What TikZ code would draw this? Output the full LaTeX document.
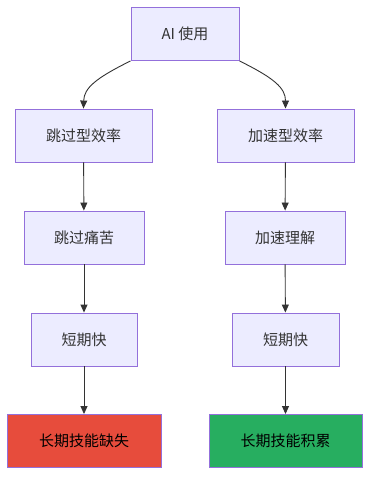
\documentclass[tikz,border=0pt]{standalone}
\usepackage{fontspec}
\setmainfont{Noto Sans CJK SC}
\usetikzlibrary{arrows.meta}
\definecolor{boxfill}{HTML}{ECECFF}
\definecolor{boxline}{HTML}{9370DB}
\definecolor{ink}{HTML}{333333}
\definecolor{badred}{HTML}{E74C3C}
\definecolor{goodgreen}{HTML}{27AE60}
\tikzset{
  box/.style={draw=boxline,fill=boxfill,line width=0.9pt,text=ink,inner sep=0pt,
    minimum height=53pt,font=\fontsize{15}{18}\selectfont},
  arr/.style={draw=ink,line width=0.9pt,-{Triangle[length=8pt,width=7pt]}}
}
\begin{document}
\begin{tikzpicture}[x=1pt,y=-1pt]
  \useasboundingbox (0,0) rectangle (378,486);
  \node[box,minimum width=108pt] (ai) at (185,34) {AI 使用};
  \node[box,minimum width=137pt] (skip) at (83.5,135.5) {跳过型效率};
  \node[box,minimum width=137pt] (fast) at (285.5,135.5) {加速型效率};
  \node[box,minimum width=120pt] (pain) at (84,237.5) {跳过痛苦};
  \node[box,minimum width=120pt] (grasp) at (285,237.5) {加速理解};
  \node[box,minimum width=106pt] (quickL) at (84,339.5) {短期快};
  \node[box,minimum width=107pt] (quickR) at (285.5,339.5) {短期快};
  \node[box,minimum width=154pt,fill=badred,text=black] (lack) at (84,441) {长期技能缺失};
  \node[box,minimum width=153pt,fill=goodgreen,text=black] (gain) at (285.5,441) {长期技能积累};
  % branches
  \draw[arr] (ai.south west) .. controls (96,78) and (84,88) .. (skip.north);
  \draw[arr] (ai.south east) .. controls (274,78) and (285.5,88) .. (fast.north);
  % left chain
  \draw[arr] (skip) -- (pain);
  \draw[arr] (pain) -- (quickL);
  \draw[arr] (quickL) -- (lack);
  % right chain
  \draw[arr] (fast) -- (grasp);
  \draw[arr] (grasp) -- (quickR);
  \draw[arr] (quickR) -- (gain);
\end{tikzpicture}
\end{document}
